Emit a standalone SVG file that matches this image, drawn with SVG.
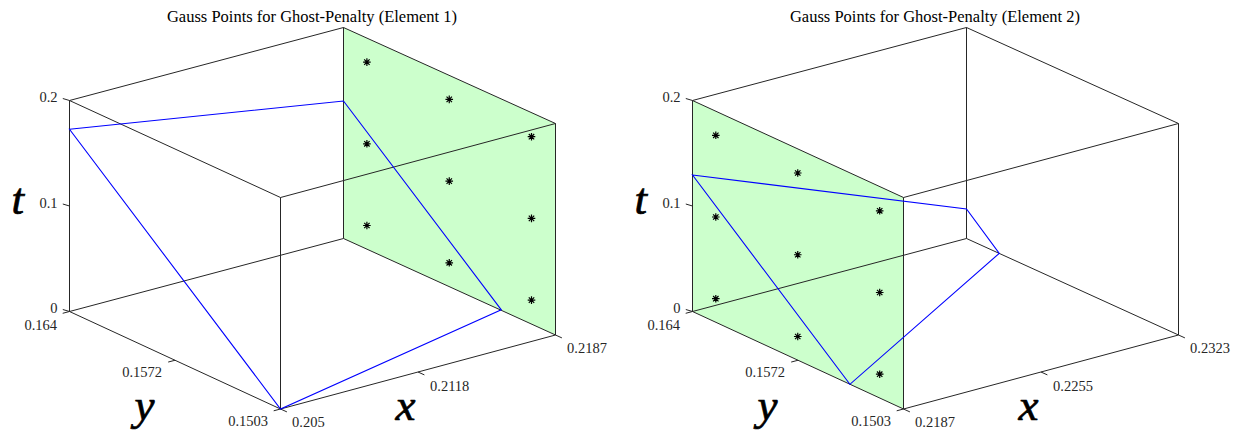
<svg xmlns="http://www.w3.org/2000/svg" width="1236" height="432" viewBox="0 0 1236 432">
<style>
.bg{fill:#ffffff}
.face{fill:#ccffcc;stroke:none}
.box{fill:none;stroke:#262626;stroke-width:1}
.tick{fill:none;stroke:#262626;stroke-width:1}
.curve{fill:none;stroke:#0000ff;stroke-width:1.1;stroke-linejoin:miter}
.tl{font-family:"Liberation Serif","Times New Roman",serif;font-size:14.5px;fill:#262626}
.end{text-anchor:end}
.title{font-family:"Liberation Serif","Times New Roman",serif;font-size:16.5px;fill:#000000;text-anchor:middle}
.ax{font-family:"Liberation Serif","Times New Roman",serif;font-size:45px;font-style:italic;fill:#000000;stroke:#000000;stroke-width:0.7}
</style>
<defs>
<g id="star"><path d="M-3.8,0H3.8M0,-3.8V3.8M-2.7,-2.7L2.7,2.7M-2.7,2.7L2.7,-2.7" stroke="#000000" stroke-width="1.2" fill="none"/></g>
<g id="frame">
<path class="box" d="M69.5,100.5L343.5,27.5L555.5,123.5L280.5,197.5Z M69.5,311.5L343.5,238.5L555.5,335L280.5,409Z M69.5,100.5V311.5 M343.5,27.5V238.5 M555.5,123.5V335 M280.5,197.5V409"/>
<path class="tick" d="M69.5,100.5l-6.7,-2 M69.5,206l-6.7,-2 M69.5,311.5l-6.7,-2 M69.5,311.5l-6.8,1.8 M175,360.25l-6.8,1.8 M280.5,409l-6.8,1.8 M280.5,409l6.4,2.9 M418,372l6.4,2.9 M555.5,335l6.4,2.9"/>
</g>
<g id="zlabels">
<text class="tl end" x="57.5" y="102">0.2</text>
<text class="tl end" x="57.5" y="208">0.1</text>
<text class="tl end" x="57.5" y="312.5">0</text>
<text class="tl end" x="57" y="329.5">0.164</text>
<text class="tl end" x="162" y="377.3">0.1572</text>
<text class="tl end" x="268" y="426.3">0.1503</text>
<text class="ax" x="11.5" y="214">t</text>
<text class="ax" x="134.5" y="419.5">y</text>
<text class="ax" x="395.5" y="420">x</text>
</g>
</defs>
<rect class="bg" x="0" y="0" width="1236" height="432"/>

<g id="plot1">
<path class="face" d="M343.5,27.5L555.5,123.5L555.5,335L343.5,238.5Z"/>
<use href="#frame"/>
<g id="connectors1">
<path class="curve" d="M69.5,129.3L343.5,101L501.3,309.8L280.5,409Z"/>
</g>
<g id="gauss1">
<use href="#star" x="366.9" y="62.1"/>
<use href="#star" x="366.9" y="143.8"/>
<use href="#star" x="366.9" y="225.5"/>
<use href="#star" x="449.25" y="99.4"/>
<use href="#star" x="449.25" y="181.1"/>
<use href="#star" x="449.25" y="262.8"/>
<use href="#star" x="531.5" y="136.7"/>
<use href="#star" x="531.5" y="218.4"/>
<use href="#star" x="531.5" y="300.1"/>
</g>
<text class="title" x="312" y="21.5">Gauss Points for Ghost-Penalty (Element 1)</text>
<use href="#zlabels"/>
<text class="tl" x="292" y="426.5">0.205</text>
<text class="tl" x="430" y="391">0.2118</text>
<text class="tl" x="567" y="352.5">0.2187</text>
</g>

<g id="plot2" transform="translate(623,0)">
<path class="face" d="M69.5,100.5L280.5,197.5L280.5,409L69.5,311.5Z"/>
<use href="#frame"/>
<g id="connectors2">
<path class="curve" d="M69.5,175L343.5,209L376.3,253.3L226.9,384.3Z"/>
</g>
<g id="gauss2">
<use href="#star" x="92.8" y="135.3"/>
<use href="#star" x="92.8" y="217"/>
<use href="#star" x="92.8" y="298.7"/>
<use href="#star" x="174.75" y="173"/>
<use href="#star" x="174.75" y="254.75"/>
<use href="#star" x="174.75" y="336.5"/>
<use href="#star" x="256.7" y="210.8"/>
<use href="#star" x="256.7" y="292.5"/>
<use href="#star" x="256.7" y="374.2"/>
</g>
<text class="title" x="312" y="21.5">Gauss Points for Ghost-Penalty (Element 2)</text>
<use href="#zlabels"/>
<text class="tl" x="292" y="426.5">0.2187</text>
<text class="tl" x="430" y="391">0.2255</text>
<text class="tl" x="567" y="352.5">0.2323</text>
</g>
</svg>
